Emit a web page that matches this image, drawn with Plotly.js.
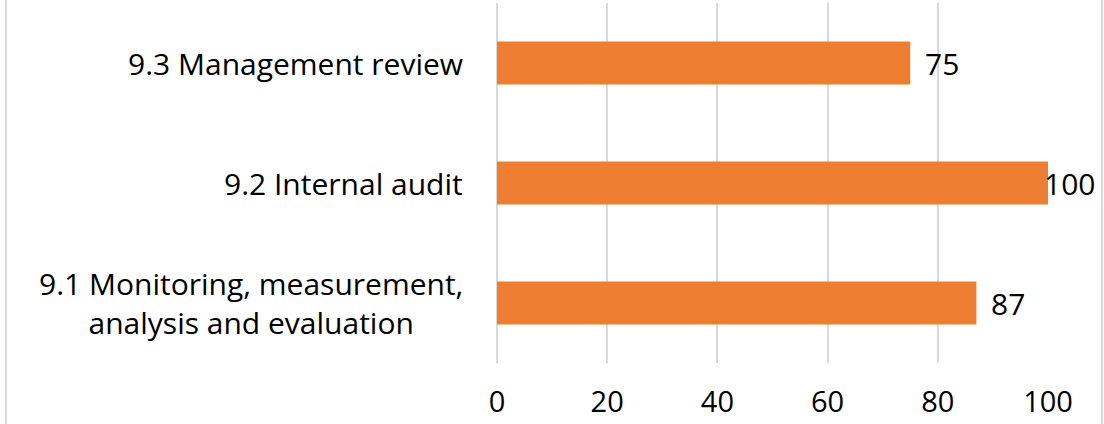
<!DOCTYPE html>
<html>
<head>
<meta charset="utf-8">
<script src="https://cdn.plot.ly/plotly-3.0.1.min.js"></script>
<style>html,body{margin:0;padding:0;background:#fff;}#chart{width:1104px;height:424px;}</style>
</head>
<body>
<div id="chart"></div>
<script>
var categories = ["9.1 Monitoring, measurement,<br>analysis and evaluation", "9.2 Internal audit", "9.3 Management review"];
var values = [87, 100, 75];
var tickVals = [0, 20, 40, 60, 80, 100];
var xMax = 100;

var FONT = "Open Sans, sans-serif";
var FS = 30;
var trace = {
  type: "bar",
  orientation: "h",
  x: values,
  y: categories,
  marker: {color: "#ED7D31"},
  width: 0.36,
  hoverinfo: "x+y"
};

var catLabels = categories.map(function (c) {
  return {
    xref: "paper", yref: "y", x: 0, y: c, xanchor: "right", yanchor: "middle",
    xshift: -32, text: c, align: "center", showarrow: false,
    font: {family: FONT, size: FS, color: "#000"}
  };
});

var valueLabels = values.map(function (v, i) {
  return {
    xref: "x", yref: "y", x: v, y: categories[i], xanchor: "left", yanchor: "middle",
    xshift: v >= xMax ? -6 : 13, text: String(v), showarrow: false,
    font: {family: FONT, size: FS, color: "#000"}
  };
});

var layout = {
  width: 1104, height: 424,
  margin: {l: 497, r: 56, t: 3, b: 61, pad: 0},
  paper_bgcolor: "#fff", plot_bgcolor: "#fff",
  showlegend: false,
  xaxis: {
    range: [0, xMax], tickvals: tickVals, ticktext: tickVals.map(String),
    showgrid: true, gridcolor: "#D9D9D9", gridwidth: 2,
    zeroline: true, zerolinecolor: "#D9D9D9", zerolinewidth: 2,
    showline: false, ticks: "", ticklabelstandoff: 19,
    tickfont: {family: FONT, size: 29, color: "#000"}, fixedrange: true
  },
  yaxis: {
    type: "category", categoryorder: "array", categoryarray: categories,
    range: [-0.5, 2.5], showticklabels: false, showgrid: false, zeroline: false,
    showline: false, ticks: "", fixedrange: true
  },
  annotations: catLabels.concat(valueLabels),
  shapes: [
    {type: "line", xref: "paper", yref: "paper", x0: -0.891, x1: -0.891, y0: -1, y1: 2,
     line: {color: "#D9D9D9", width: 2}},
    {type: "line", xref: "paper", yref: "paper", x0: 1.098, x1: 1.098, y0: -1, y1: 2,
     line: {color: "#D9D9D9", width: 2}}
  ]
};

Plotly.newPlot("chart", [trace], layout, {displayModeBar: false, staticPlot: true});
</script>
</body>
</html>
